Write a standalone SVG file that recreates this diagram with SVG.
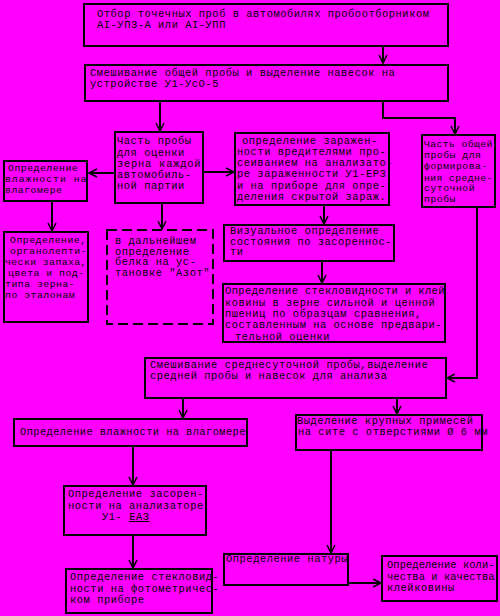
<svg xmlns="http://www.w3.org/2000/svg" width="500" height="616" viewBox="0 0 500 616">
<defs>
<style>
.b{fill:none;stroke:#000;stroke-width:2}
.d{fill:none;stroke:#000;stroke-width:2;stroke-dasharray:10 5}
.c{fill:none;stroke:#000;stroke-width:2}
text{font-family:"Liberation Mono","DejaVu Sans Mono",monospace;font-size:10.4px;letter-spacing:0.55px;fill:#000}
.n text{font-size:9.8px;letter-spacing:0.5px}
</style>
<marker id="a" markerWidth="12" markerHeight="12" refX="9" refY="5" orient="auto" markerUnits="userSpaceOnUse">
<path d="M1,1 L9,5 L1,9" fill="none" stroke="#000" stroke-width="1.5"/>
</marker>
</defs>
<rect width="500" height="616" fill="#FF00FF"/>
<g id="connectors">
<path class="c" d="M383,46 V63" marker-end="url(#a)"/>
<path class="c" d="M160,101 V131" marker-end="url(#a)"/>
<path class="c" d="M383,101 V118 H455 V134" marker-end="url(#a)"/>
<path class="c" d="M115,173 H89" marker-end="url(#a)"/>
<path class="c" d="M203,172 H234" marker-end="url(#a)"/>
<path class="c" d="M52,201 V231" marker-end="url(#a)"/>
<path class="c" d="M162,203 V229" marker-end="url(#a)"/>
<path class="c" d="M324,205 V224" marker-end="url(#a)"/>
<path class="c" d="M322,261 V283" marker-end="url(#a)"/>
<path class="c" d="M477,207 V378 H447" marker-end="url(#a)"/>
<path class="c" d="M183,398 V418" marker-end="url(#a)"/>
<path class="c" d="M397,398 V414" marker-end="url(#a)"/>
<path class="c" d="M133,446 V485" marker-end="url(#a)"/>
<path class="c" d="M133,535 V568" marker-end="url(#a)"/>
<path class="c" d="M331,450 V553" marker-end="url(#a)"/>
<path class="c" d="M348,583 H381" marker-end="url(#a)"/>
</g>
<g id="n1"><rect class="b" x="84" y="4" width="364" height="42"/>
<text x="97" y="17">Отбор точечных проб в автомобилях пробоотборником</text>
<text x="97" y="28">АI-УПЗ-А или АI-УПП</text></g>
<g id="n2"><rect class="b" x="85" y="65" width="363" height="36"/>
<text x="90" y="76">Смешивание общей пробы и выделение навесок на</text>
<text x="90" y="87">устройстве  У1-УсО-5</text></g>
<g id="n3"><rect class="b" x="115" y="132" width="88" height="71"/>
<text x="117" y="144">Часть пробы</text>
<text x="117" y="156">для оценки</text>
<text x="117" y="167" textLength="84">зерна каждой</text>
<text x="117" y="178">автомобиль-</text>
<text x="117" y="189">ной партии</text></g>
<g id="n4" class="n"><rect class="b" x="4" y="161" width="83" height="40"/>
<text x="8" y="171">Определение</text>
<text x="5" y="182" textLength="82">влажности на</text>
<text x="5" y="193">влагомере</text></g>
<g id="n5"><rect class="b" x="235" y="133" width="154" height="72"/>
<text x="242" y="144">определение заражен-</text>
<text x="237" y="155">ности вредителями про-</text>
<text x="237" y="166" textLength="156">сеиванием на анализато-</text>
<text x="237" y="177">ре зараженности У1-ЕРЗ</text>
<text x="237" y="189">и на приборе для опре-</text>
<text x="237" y="200">деления скрытой зараж.</text></g>
<g id="n6" class="n"><rect class="b" x="422" y="135" width="73" height="72"/>
<text x="424" y="147" textLength="69">Часть общей</text>
<text x="424" y="158">пробы для</text>
<text x="424" y="169">формирова-</text>
<text x="424" y="181" textLength="69">ния средне-</text>
<text x="424" y="191">суточной</text>
<text x="424" y="202">пробы</text></g>
<g id="n7" class="n"><rect class="b" x="4" y="232" width="84" height="90"/>
<text x="10" y="243">Определение,</text>
<text x="10" y="254" textLength="77">органолепти-</text>
<text x="5" y="265" textLength="82">чески запаха,</text>
<text x="8" y="276">цвета и под-</text>
<text x="5" y="287">типа зерна-</text>
<text x="5" y="298">по эталонам</text></g>
<g id="n8"><rect class="d" x="107" y="230" width="106" height="94"/>
<text x="115" y="244">в дальнейшем</text>
<text x="115" y="254.5">определение</text>
<text x="115" y="265">белка на ус-</text>
<text x="115" y="275.5">тановке "Азот"</text></g>
<g id="n9"><rect class="b" x="224" y="225" width="170" height="36"/>
<text x="230" y="234">Визуальное определение</text>
<text x="230" y="244.5" textLength="162">состояния по засореннос-</text>
<text x="230" y="255">ти</text></g>
<g id="n10"><rect class="b" x="223" y="284" width="222" height="58"/>
<text x="225" y="294" textLength="220">Определение стекловидности и клей</text>
<text x="225" y="306">ковины в зерне сильной и ценной</text>
<text x="225" y="317">пшениц по образцам сравнения,</text>
<text x="225" y="328">составленным на основе предвари-</text>
<text x="235" y="340">тельной оценки</text></g>
<g id="n11"><rect class="b" x="145" y="358" width="301" height="40"/>
<text x="150" y="368">Смешивание среднесуточной пробы,выделение</text>
<text x="150" y="379">средней пробы и навесок для анализа</text></g>
<g id="n12"><rect class="b" x="14" y="419" width="233" height="27"/>
<text x="20" y="435" textLength="226">Определение влажности на влагомере</text></g>
<g id="n13"><rect class="b" x="296" y="415" width="186" height="35"/>
<text x="297" y="424">Выделение крупных примесей</text>
<text x="298" y="434.5">на сите с отверстиями Ø 6 мм</text></g>
<g id="n14"><rect class="b" x="64" y="486" width="142" height="49"/>
<text x="68" y="497">Определение засорен-</text>
<text x="68" y="509">ности на анализаторе</text>
<text x="102" y="520">У1- <tspan text-decoration="underline">ЕАЗ</tspan></text></g>
<g id="n15"><rect class="b" x="66" y="569" width="146" height="44"/>
<text x="70" y="580">Определение стекловид-</text>
<text x="70" y="592">ности на фотометричес-</text>
<text x="70" y="603">ком приборе</text></g>
<g id="n16"><rect class="b" x="224" y="554" width="124" height="31"/>
<text x="226" y="562">Определение натуры</text></g>
<g id="n17"><rect class="b" x="382" y="556" width="115" height="45"/>
<text x="387" y="568" textLength="108">Определение коли-</text>
<text x="387" y="580" textLength="108">чества и качества</text>
<text x="387" y="591">клейковины</text></g>
</svg>
